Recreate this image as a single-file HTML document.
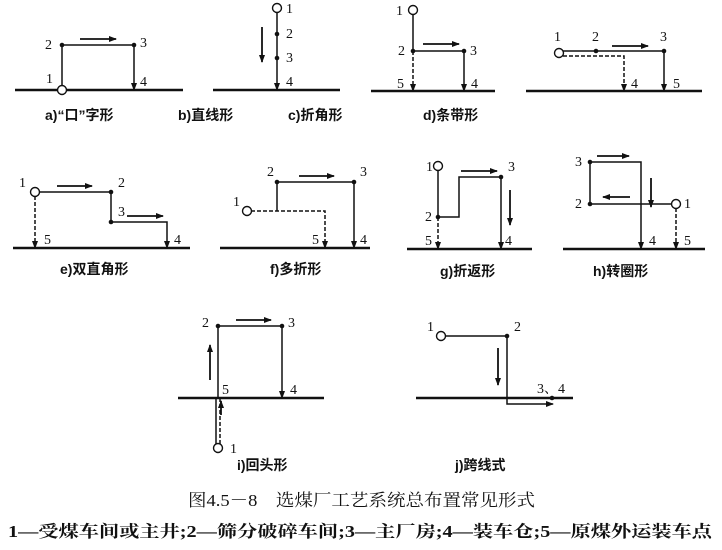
<!DOCTYPE html>
<html><head><meta charset="utf-8"><style>
html,body{margin:0;padding:0;background:#fff;}
svg{display:block}
text{font-family:"Liberation Serif","Noto Serif CJK SC",serif;fill:#111;}
.n{font-size:14px}
.c{font-size:14px;font-weight:bold;font-family:"Liberation Sans","Noto Sans CJK SC",sans-serif;}
.g{stroke:#111;stroke-width:2.4}
.l{stroke:#111;stroke-width:1.5;fill:none}
.d{stroke:#111;stroke-width:1.5;fill:none;stroke-dasharray:4 2}
.a{stroke:#111;stroke-width:1.8;fill:none}
</style></head><body>
<svg width="722" height="550" viewBox="0 0 722 550">
<defs>
<marker id="h" markerWidth="8" markerHeight="6" refX="7" refY="3" orient="auto" markerUnits="userSpaceOnUse"><path d="M0,0 L8,3 L0,6 Z" fill="#111"/></marker>
</defs>
<g fill="#111">
<!-- a -->
<line class="g" x1="15" y1="90" x2="183" y2="90"/>
<polyline class="l" points="62,86 62,45 134,45 134,90" marker-end="url(#h)"/>
<circle cx="62" cy="45" r="2.3"/><circle cx="134" cy="45" r="2.3"/>
<circle cx="62" cy="90" r="4.5" fill="#fff" stroke="#111" stroke-width="1.4"/>
<line class="a" x1="80" y1="39" x2="116" y2="39" marker-end="url(#h)"/>
<text class="n" x="45" y="49">2</text><text class="n" x="140" y="47">3</text>
<text class="n" x="46" y="83">1</text><text class="n" x="140" y="86">4</text>
<text class="c" x="45" y="120">a)“口”字形</text>
<!-- b -->
<line class="g" x1="213" y1="90" x2="340" y2="90"/>
<line class="l" x1="277" y1="12" x2="277" y2="90" marker-end="url(#h)"/>
<circle cx="277" cy="8" r="4.5" fill="#fff" stroke="#111" stroke-width="1.4"/>
<circle cx="277" cy="34" r="2.3"/><circle cx="277" cy="58" r="2.3"/>
<line class="a" x1="262" y1="27" x2="262" y2="62" marker-end="url(#h)"/>
<text class="n" x="286" y="13">1</text><text class="n" x="286" y="38">2</text>
<text class="n" x="286" y="62">3</text><text class="n" x="286" y="86">4</text>
<text class="c" x="178" y="120">b)直线形</text>
<!-- c -->
<line class="g" x1="371" y1="91" x2="495" y2="91"/>
<line class="l" x1="413" y1="14" x2="413" y2="51"/>
<line class="d" x1="413" y1="51" x2="413" y2="91" marker-end="url(#h)"/>
<polyline class="l" points="413,51 464,51 464,91" marker-end="url(#h)"/>
<circle cx="413" cy="10" r="4.5" fill="#fff" stroke="#111" stroke-width="1.4"/>
<circle cx="413" cy="51" r="2.3"/><circle cx="464" cy="51" r="2.3"/>
<line class="a" x1="423" y1="44" x2="459" y2="44" marker-end="url(#h)"/>
<text class="n" x="396" y="15">1</text><text class="n" x="398" y="55">2</text>
<text class="n" x="470" y="55">3</text><text class="n" x="397" y="88">5</text><text class="n" x="471" y="88">4</text>
<text class="c" x="288" y="120">c)折角形</text>
<!-- d -->
<line class="g" x1="526" y1="91" x2="702" y2="91"/>
<polyline class="l" points="563,51 664,51 664,91" marker-end="url(#h)"/>
<polyline class="d" points="563,56 624,56 624,91" marker-end="url(#h)"/>
<circle cx="559" cy="53" r="4.5" fill="#fff" stroke="#111" stroke-width="1.4"/>
<circle cx="596" cy="51" r="2.3"/><circle cx="664" cy="51" r="2.3"/>
<line class="a" x1="612" y1="46" x2="648" y2="46" marker-end="url(#h)"/>
<text class="n" x="554" y="41">1</text><text class="n" x="592" y="41">2</text>
<text class="n" x="660" y="41">3</text><text class="n" x="631" y="88">4</text><text class="n" x="673" y="88">5</text>
<text class="c" x="423" y="120">d)条带形</text>
<!-- e -->
<line class="g" x1="13" y1="248" x2="190" y2="248"/>
<polyline class="l" points="39,192 111,192 111,222 167,222 167,248" marker-end="url(#h)"/>
<line class="d" x1="35" y1="196" x2="35" y2="248" marker-end="url(#h)"/>
<circle cx="35" cy="192" r="4.5" fill="#fff" stroke="#111" stroke-width="1.4"/>
<circle cx="111" cy="192" r="2.3"/><circle cx="111" cy="222" r="2.3"/>
<line class="a" x1="57" y1="186" x2="92" y2="186" marker-end="url(#h)"/>
<line class="a" x1="127" y1="216" x2="163" y2="216" marker-end="url(#h)"/>
<text class="n" x="19" y="187">1</text><text class="n" x="118" y="187">2</text>
<text class="n" x="118" y="216">3</text><text class="n" x="44" y="244">5</text><text class="n" x="174" y="244">4</text>
<text class="c" x="60" y="274">e)双直角形</text>
<!-- f -->
<line class="g" x1="220" y1="248" x2="370" y2="248"/>
<polyline class="d" points="251,211 325,211 325,248" marker-end="url(#h)"/>
<polyline class="l" points="277,211 277,182 354,182 354,248" marker-end="url(#h)"/>
<circle cx="247" cy="211" r="4.5" fill="#fff" stroke="#111" stroke-width="1.4"/>
<circle cx="277" cy="182" r="2.3"/><circle cx="354" cy="182" r="2.3"/>
<line class="a" x1="299" y1="176" x2="334" y2="176" marker-end="url(#h)"/>
<text class="n" x="233" y="206">1</text><text class="n" x="267" y="176">2</text>
<text class="n" x="360" y="176">3</text><text class="n" x="312" y="244">5</text><text class="n" x="360" y="244">4</text>
<text class="c" x="270" y="274">f)多折形</text>
<!-- g -->
<line class="g" x1="407" y1="249" x2="532" y2="249"/>
<polyline class="l" points="438,170 438,217 459,217 459,177 501,177 501,249" marker-end="url(#h)"/>
<line class="d" x1="438" y1="217" x2="438" y2="249" marker-end="url(#h)"/>
<circle cx="438" cy="166" r="4.5" fill="#fff" stroke="#111" stroke-width="1.4"/>
<circle cx="438" cy="217" r="2.3"/><circle cx="501" cy="177" r="2.3"/>
<line class="a" x1="461" y1="171" x2="497" y2="171" marker-end="url(#h)"/>
<line class="a" x1="510" y1="190" x2="510" y2="225" marker-end="url(#h)"/>
<text class="n" x="426" y="171">1</text><text class="n" x="425" y="221">2</text>
<text class="n" x="508" y="171">3</text><text class="n" x="425" y="245">5</text><text class="n" x="505" y="245">4</text>
<text class="c" x="440" y="276">g)折返形</text>
<!-- h -->
<line class="g" x1="563" y1="249" x2="705" y2="249"/>
<polyline class="l" points="672,204 590,204 590,162 641,162 641,249" marker-end="url(#h)"/>
<line class="d" x1="676" y1="208" x2="676" y2="249" marker-end="url(#h)"/>
<circle cx="676" cy="204" r="4.5" fill="#fff" stroke="#111" stroke-width="1.4"/>
<circle cx="590" cy="162" r="2.3"/><circle cx="590" cy="204" r="2.3"/>
<line class="a" x1="597" y1="156" x2="629" y2="156" marker-end="url(#h)"/>
<line class="a" x1="630" y1="197" x2="603" y2="197" marker-end="url(#h)"/>
<line class="a" x1="651" y1="178" x2="651" y2="207" marker-end="url(#h)"/>
<text class="n" x="575" y="166">3</text><text class="n" x="575" y="208">2</text>
<text class="n" x="684" y="208">1</text><text class="n" x="649" y="245">4</text><text class="n" x="684" y="245">5</text>
<text class="c" x="593" y="276">h)转圈形</text>
<!-- i -->
<line class="g" x1="178" y1="398" x2="324" y2="398"/>
<polyline class="l" points="218,398 218,326 282,326 282,398" marker-end="url(#h)"/>
<line class="l" x1="216" y1="398" x2="216" y2="444"/>
<line class="d" x1="220" y1="398" x2="220" y2="444"/>
<circle cx="218" cy="448" r="4.5" fill="#fff" stroke="#111" stroke-width="1.4"/>
<circle cx="218" cy="326" r="2.3"/><circle cx="282" cy="326" r="2.3"/>
<line class="a" x1="236" y1="320" x2="271" y2="320" marker-end="url(#h)"/>
<line class="a" x1="210" y1="380" x2="210" y2="345" marker-end="url(#h)"/>
<line class="a" x1="221" y1="415" x2="221" y2="401" marker-end="url(#h)"/>
<text class="n" x="202" y="327">2</text><text class="n" x="288" y="327">3</text>
<text class="n" x="222" y="394">5</text><text class="n" x="290" y="394">4</text><text class="n" x="230" y="453">1</text>
<text class="c" x="237" y="470">i)回头形</text>
<!-- j -->
<line class="g" x1="416" y1="398" x2="573" y2="398"/>
<polyline class="l" points="445,336 507,336 507,404 553,404" marker-end="url(#h)"/>
<circle cx="441" cy="336" r="4.5" fill="#fff" stroke="#111" stroke-width="1.4"/>
<circle cx="507" cy="336" r="2.3"/><circle cx="552" cy="398" r="2.3"/>
<line class="a" x1="498" y1="348" x2="498" y2="385" marker-end="url(#h)"/>
<text class="n" x="427" y="331">1</text><text class="n" x="514" y="331">2</text>
<text class="n" x="537" y="393">3、4</text>
<text class="c" x="455" y="470">j)跨线式</text>
</g>
<text x="188" y="506" textLength="347" lengthAdjust="spacingAndGlyphs" style="font-size:17px">图4.5－8　选煤厂工艺系统总布置常见形式</text>
<text x="8" y="537" textLength="704" lengthAdjust="spacingAndGlyphs" style="font-size:16.5px;font-weight:bold">1—受煤车间或主井;2—筛分破碎车间;3—主厂房;4—装车仓;5—原煤外运装车点</text>
</svg>
</body></html>
